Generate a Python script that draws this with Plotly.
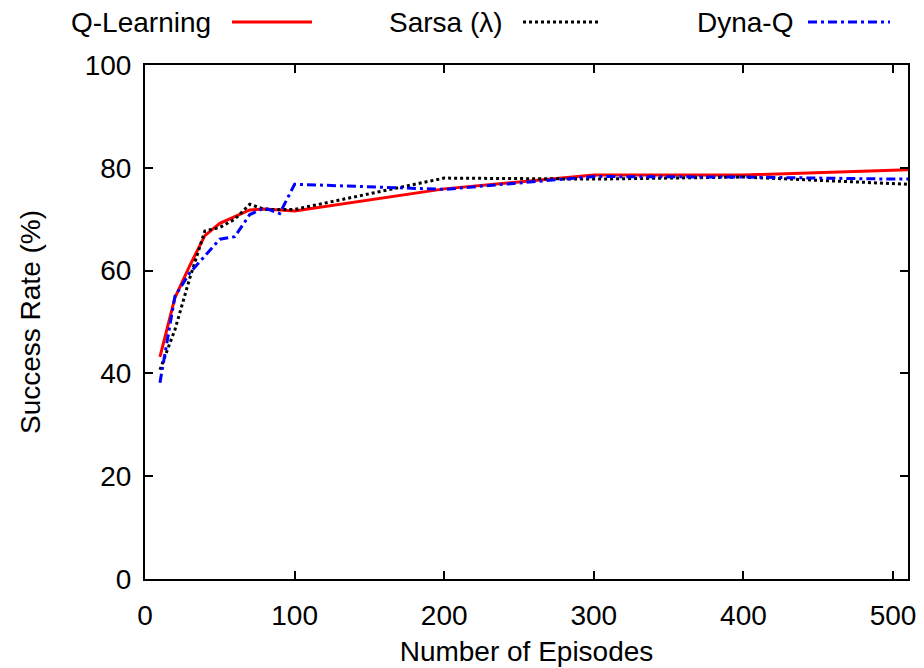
import plotly.graph_objects as go

# ---- data ----
episodes = [10, 20, 30, 40, 50, 60, 70, 80, 90, 100, 200, 300, 400, 500, 510]
q_learning = [43.2, 54.7, 61.0, 66.8, 69.2, 70.5, 71.8, 72.0, 71.8, 71.6, 75.9, 78.6, 78.6, 79.5, 79.6]
sarsa = [40.7, 48.5, 58.6, 67.7, 68.4, 70.0, 72.9, 71.9, 71.9, 71.9, 78.0, 77.8, 78.2, 76.9, 76.8]
dyna_q = [38.2, 55.0, 59.6, 62.8, 66.1, 66.6, 70.9, 72.2, 71.1, 76.8, 75.8, 78.3, 78.2, 77.8, 77.8]

series_names = ["Q-Learning", "Sarsa (λ)", "Dyna-Q"]
x_ticks = [0, 100, 200, 300, 400, 500]
y_ticks = [0, 20, 40, 60, 80, 100]

W, H = 924, 668
L, R, T, B = 145, 16, 65, 89
FONT = "Liberation Sans, Arial, Helvetica, sans-serif"
FS = 28

styles = [
    dict(color="#ff0000", width=3, dash="solid"),
    dict(color="#000000", width=3, dash="3px,3px"),
    dict(color="#0000ff", width=3, dash="9px,4px,3px,4px"),
]

fig = go.Figure()
for name, ys, st in zip(series_names, [q_learning, sarsa, dyna_q], styles):
    fig.add_trace(go.Scatter(x=episodes, y=ys, mode="lines", name=name,
                             line=st, showlegend=False, cliponaxis=True))

pw = W - L - R
ph = H - T - B

def px_x(p):
    return (p - L) / pw

def px_y(p):
    return (H - B - p) / ph

# custom gnuplot-style key: text then sample line
legend_items = [
    (213, 232, 312),
    (505, 523, 600),
    (795, 808, 890),
]
ly = 22
for name, st, (tx, x0, x1) in zip(series_names, styles, legend_items):
    fig.add_annotation(x=px_x(tx), y=px_y(ly), xref="paper", yref="paper",
                       text=name, showarrow=False, xanchor="right", yanchor="middle",
                       font=dict(family=FONT, size=FS, color="black"))
    fig.add_shape(type="line", xref="paper", yref="paper",
                  x0=px_x(x0), x1=px_x(x1), y0=px_y(ly), y1=px_y(ly),
                  line=dict(color=st["color"], width=st["width"], dash=st["dash"]))

axis_common = dict(showline=True, linecolor="black", linewidth=2, mirror="ticks",
                   ticks="inside", ticklen=8, tickwidth=1.5, tickcolor="black",
                   showgrid=False, zeroline=False,
                   tickfont=dict(family=FONT, size=FS, color="black"))

fig.update_xaxes(range=[0, 510], tickvals=x_ticks, ticktext=[str(v) for v in x_ticks],
                 ticklabelstandoff=10,
                 title=dict(text="Number of Episodes", standoff=12,
                            font=dict(family=FONT, size=FS, color="black")),
                 **axis_common)
fig.update_yaxes(range=[0, 100], tickvals=y_ticks, ticktext=[str(v) for v in y_ticks],
                 ticklabelstandoff=6,
                 title=dict(text="Success Rate (%)", standoff=36,
                            font=dict(family=FONT, size=FS, color="black")),
                 **axis_common)

fig.update_layout(width=W, height=H, margin=dict(l=L, r=R, t=T, b=B, autoexpand=False),
                  paper_bgcolor="white", plot_bgcolor="white",
                  font=dict(family=FONT, size=FS, color="black"))

fig.write_html("out.html", include_plotlyjs=True, full_html=True,
               config={"displayModeBar": False})
